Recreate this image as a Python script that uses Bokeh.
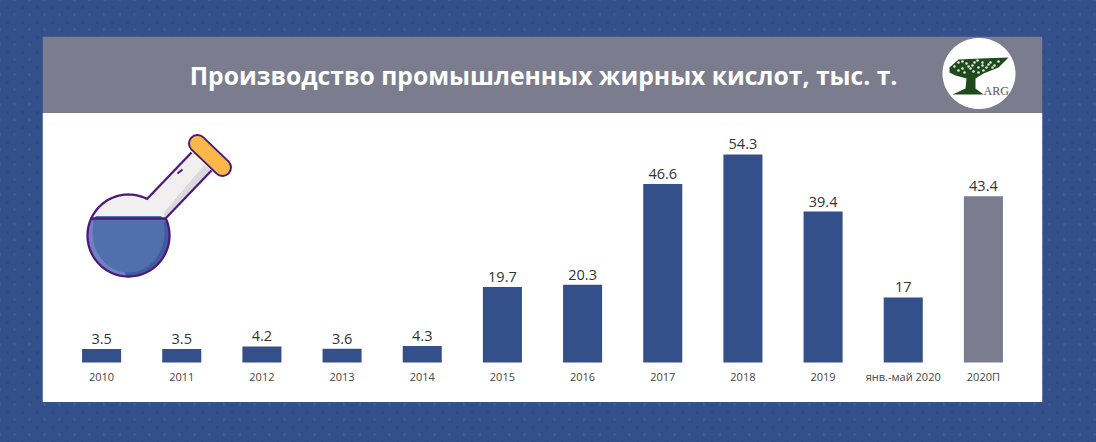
import numpy as np
from bokeh.plotting import figure
from bokeh.core.properties import value
from bokeh.models import ColumnDataSource, FactorRange, Range1d, LabelSet, Label
from bokeh.embed import file_html
from bokeh.resources import INLINE

title_text = "Производство промышленных жирных кислот, тыс. т."
categories = ["2010", "2011", "2012", "2013", "2014", "2015", "2016", "2017", "2018", "2019", "янв.-май 2020", "2020П"]
values = [3.5, 3.5, 4.2, 3.6, 4.3, 19.7, 20.3, 46.6, 54.3, 39.4, 17, 43.4]

BLUE, GREY = "#34508b", "#7b7d8e"
PURPLE = "#4d1a7a"
colors = [BLUE] * 11 + [GREY]

src = ColumnDataSource(dict(cat=categories, val=values, col=colors, txt=[f"{v:g}" for v in values]))

PAD = 0.237
p = figure(width=1088, height=434, output_backend="svg", toolbar_location=None,
           x_range=FactorRange(factors=categories, range_padding=PAD, range_padding_units="absolute"),
           y_range=Range1d(-10.44, 85.1),
           min_border_left=42, min_border_right=46, min_border_top=36, min_border_bottom=32,
           background_fill_alpha=0, border_fill_alpha=0, outline_line_color=None)
# decoration space: picture pixels. x goes through the factor range's synthetic coordinates.
def X(a):
    return (np.asarray(a, dtype=float) - 42) / (1000 / (12 + 2 * PAD)) - PAD
p.extra_y_ranges["px"] = Range1d(402, 36)
px = dict(y_range_name="px")

p.quad(left=X([42]), right=X([1042]), top=[112.5], bottom=[401.5], fill_color="white", line_color=None, level="underlay", **px)
p.quad(left=X([42]), right=X([1042]), top=[36], bottom=[112.5], fill_color=GREY, line_color=None, level="underlay", **px)

p.vbar(x="cat", top="val", width=0.487, bottom=0, fill_color="col", line_color=None, source=src)
p.add_layout(LabelSet(x="cat", y="val", text="txt", source=src, text_align="center", text_baseline="bottom",
                      y_offset=5, text_font=value("Open Sans"), text_font_size=value("14.5px"), text_color="#333333"))

p.yaxis.visible = False
p.xgrid.visible = False
p.ygrid.visible = False
ax = p.xaxis[0]
ax.fixed_location = 0
ax.axis_line_color = None
ax.major_tick_line_color = None
ax.minor_tick_line_color = None
ax.major_label_orientation = "horizontal"
ax.major_label_standoff = 0
ax.major_label_text_font = "Open Sans"
ax.major_label_text_font_size = "11px"
ax.major_label_text_color = "#444444"

p.add_layout(Label(x=float(X(543)), y=75, text=title_text, text_align="center", text_baseline="middle",
                   text_font="Open Sans", text_font_style="bold", text_font_size="24.7px", text_color="white",
                   y_range_name="px"))

# flask
cx, cy, r = 128, 235, 41
BODY = "#f2eff0"
full = np.linspace(0, 2*np.pi, 120)
p.patch(X([165, 211, 204, 158]), [218, 170, 164, 218], fill_color="#dcd8e0", line_color=None, **px)
p.patch(X([146, 191, 204, 158]), [199, 152, 164, 218], fill_color=BODY, line_color=None, **px)
p.patch(X(cx + r*np.cos(full)), cy + r*np.sin(full), fill_color=BODY, line_color=None, **px)
# liquid segment
a0 = np.arcsin((218 - cy) / r)
arc = np.linspace(a0, np.pi - a0, 60)
p.patch(X(cx + r*np.cos(arc)), cy + r*np.sin(arc), fill_color="#3f5c9f", line_color=None, **px)
p.patch(X(cx + r*np.cos(arc[30:])), cy + r*np.sin(arc[30:]), fill_color="#7480c4", line_color=None, **px)
p.patch(X(cx + (r-5)*np.cos(arc)), cy - 3 + (r-1)*np.sin(arc), fill_color="#4f6fad", line_color=None, **px)
p.quad(left=X([cx - r + 6]), right=X([cx + r - 4]), top=[218], bottom=[222], fill_color="#4f6fad", line_color=None, **px)
# outlines
arc_out = np.radians(np.linspace(-63.4, -384.7, 120))
p.line(X(cx + r*np.cos(arc_out)), cy + r*np.sin(arc_out), line_color=PURPLE, line_width=2.3, **px)
p.line(X([146, 191]), [199, 152], line_color=PURPLE, line_width=2.3, **px)
p.line(X([165, 211]), [218, 170], line_color=PURPLE, line_width=2.3, **px)
p.line(X([cx + r*np.cos(np.pi - a0), cx + r*np.cos(a0)]), [218, 218], line_color=PURPLE, line_width=2.3, **px)
p.line(X([177, 182]), [173, 169], line_color=PURPLE, line_width=2, **px)
# cap
p.line(X([197, 222]), [143, 167], line_color=PURPLE, line_width=19, line_cap="round", **px)
p.line(X([197, 222]), [143, 167], line_color="#fbb84a", line_width=15, line_cap="round", **px)

# logo
lt = np.linspace(0, 2*np.pi, 120)
p.patch(X(978.5 + 36.5*np.cos(lt)), 73 + 35.5*np.sin(lt), fill_color="white", line_color=None, **px)
G = "#1f4a1e"
p.patch(X([949, 958, 980, 1008, 998, 983, 975, 975, 983, 952, 965, 966, 955, 949]),
        [67, 59, 58, 57, 67, 73, 78, 88, 94, 94, 88, 78, 75, 72], fill_color=G, line_color=None, **px)
p.scatter(X([954, 958, 962, 966, 970, 974, 978, 982, 986, 990, 994, 998, 958, 964, 968, 973, 978, 983, 988, 992, 962, 972, 982, 977]),
          [66, 62, 68, 63, 68, 62, 67, 62, 67, 62, 65, 61, 70, 72, 66, 71, 72, 70, 64, 67, 61, 65, 65, 60],
          size=2.6, marker="circle", fill_color="#dfe8d8", line_color=None, **px)
p.add_layout(Label(x=float(X(983)), y=97, text="ARG", text_font="Liberation Serif", text_font_size="12px",
                   text_color="#555555", text_align="left", text_baseline="bottom", y_range_name="px"))

html = file_html(p, INLINE)
style = ("<style>html,body{background-color:#34508b;background-image:"
         "radial-gradient(circle,#2d4a8c 1.5px,transparent 2px),"
         "radial-gradient(circle,#3d5a96 1.5px,transparent 2px);"
         "background-size:15px 15px;background-position:0 0,7px 7px;}</style>")
html = html.replace("</head>", style + "</head>", 1)
open("out.html", "w").write(html)
